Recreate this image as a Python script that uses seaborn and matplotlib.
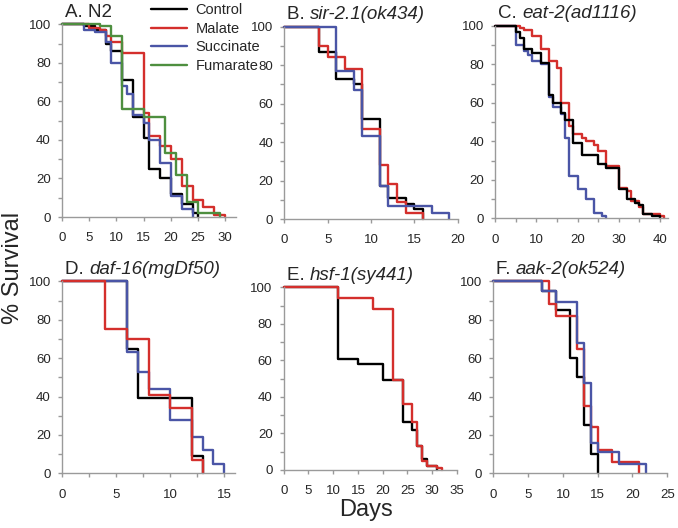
import matplotlib
matplotlib.use("Agg")
import matplotlib.pyplot as plt
import seaborn as sns
import pandas as pd
from matplotlib.ticker import MultipleLocator
from matplotlib.lines import Line2D

# ---------------- data (day, % survival), step curves ----------------
# A. N2
A_control_days = [0, 4, 6, 8, 9, 11, 13, 15, 16, 18, 20, 22, 24, 25]
A_control_surv = [100, 99, 97, 90, 86, 71, 52, 41, 25, 20, 12, 7, 2, 0]
A_malate_days = [0, 5, 7, 8, 9, 11, 15, 16, 18, 20, 22, 24, 26, 28, 30]
A_malate_surv = [100, 98, 97, 94, 91, 85, 54, 42, 37, 30, 16, 9, 5, 1, 0]
A_succinate_days = [0, 4, 6, 8, 9, 11, 12, 13, 15, 16, 18, 20, 22, 24]
A_succinate_surv = [100, 97, 96, 91, 80, 68, 64, 53, 49, 40, 28, 11, 4, 0]
A_fumarate_days = [0, 7, 9, 11, 15, 19, 21, 23, 25, 29]
A_fumarate_surv = [100, 99, 94, 56, 52, 33, 22, 8, 2, 0]

# B. sir-2.1(ok434)
B_control_days = [0, 4, 6, 8, 9, 11, 12, 14, 15, 16]
B_control_surv = [100, 87, 73, 70, 52, 17, 11, 8, 5, 0]
B_malate_days = [0, 4, 5, 7, 9, 11, 12, 13, 14, 16]
B_malate_surv = [100, 90, 84, 78, 47, 28, 18, 9, 3, 0]
B_succinate_days = [0, 6, 8, 9, 11, 12, 17, 19]
B_succinate_surv = [100, 77, 67, 43, 17, 7, 3, 0]

# C. eat-2(ad1116)
C_control_days = [0, 5, 6, 7, 9, 11, 13, 14, 16, 17, 19, 21, 25, 27, 30, 32, 34, 35, 36, 38, 40]
C_control_surv = [100, 97, 94, 88, 86, 81, 64, 60, 55, 51, 39, 33, 28, 26, 15, 10, 8, 7, 2, 1, 0]
C_malate_days = [0, 6, 7, 9, 11, 13, 15, 16, 18, 19, 21, 22, 24, 25, 27, 30, 32, 33, 35, 36, 40, 41]
C_malate_surv = [100, 99, 98, 95, 88, 82, 78, 60, 48, 44, 42, 40, 38, 35, 27, 16, 14, 9, 6, 2, 1, 0]
C_succinate_days = [0, 5, 7, 8, 9, 11, 13, 14, 16, 17, 18, 20, 22, 24, 26, 27]
C_succinate_surv = [100, 90, 87, 85, 82, 80, 63, 58, 54, 42, 22, 15, 10, 3, 1, 0]

# D. daf-16(mgDf50)
D_control_days = [0, 6, 7, 12, 13]
D_control_surv = [100, 65, 39, 9, 0]
D_malate_days = [0, 4, 6, 8, 10, 12, 13]
D_malate_surv = [100, 75, 70, 41, 34, 7, 0]
D_succinate_days = [0, 6, 7, 8, 10, 12, 13, 14, 15]
D_succinate_surv = [100, 63, 53, 44, 28, 19, 12, 5, 0]

# E. hsf-1(sy441)
E_control_days = [0, 11, 15, 20, 24, 26, 27, 28, 29, 31]
E_control_surv = [100, 61, 58, 49, 26, 22, 13, 6, 2, 0]
E_malate_days = [0, 11, 18, 22, 24, 26, 27, 28, 29, 31, 32]
E_malate_surv = [100, 94, 88, 49, 36, 26, 13, 5, 2, 1, 0]

# F. aak-2(ok524)
F_control_days = [0, 7, 9, 11, 12, 13, 14, 15]
F_control_surv = [100, 95, 85, 60, 50, 25, 10, 0]
F_malate_days = [0, 8, 9, 12, 13, 14, 15, 17, 21]
F_malate_surv = [100, 88, 82, 65, 35, 24, 12, 6, 0]
F_succinate_days = [0, 7, 9, 12, 13, 14, 15, 18, 22]
F_succinate_surv = [100, 95, 89, 68, 47, 16, 11, 5, 0]

groups = ["Control", "Malate", "Succinate", "Fumarate"]
palette = {"Control": "#000000", "Malate": "#d42f2c",
           "Succinate": "#4a55a6", "Fumarate": "#4e8f3f"}

panels = [
    ("A. N2", "", {"Control": (A_control_days, A_control_surv),
                   "Malate": (A_malate_days, A_malate_surv),
                   "Succinate": (A_succinate_days, A_succinate_surv),
                   "Fumarate": (A_fumarate_days, A_fumarate_surv)},
     ["Control", "Malate", "Succinate", "Fumarate"], 32, 5, None),
    ("B. ", "sir-2.1(ok434)", {"Control": (B_control_days, B_control_surv),
                               "Malate": (B_malate_days, B_malate_surv),
                               "Succinate": (B_succinate_days, B_succinate_surv)},
     ["Control", "Malate", "Succinate"], 20, 5, None),
    ("C. ", "eat-2(ad1116)", {"Control": (C_control_days, C_control_surv),
                              "Malate": (C_malate_days, C_malate_surv),
                              "Succinate": (C_succinate_days, C_succinate_surv)},
     ["Succinate", "Malate", "Control"], 42, 10, 5),
    ("D. ", "daf-16(mgDf50)", {"Control": (D_control_days, D_control_surv),
                               "Malate": (D_malate_days, D_malate_surv),
                               "Succinate": (D_succinate_days, D_succinate_surv)},
     ["Control", "Succinate", "Malate"], 16, 5, 2.5),
    ("E. ", "hsf-1(sy441)", {"Control": (E_control_days, E_control_surv),
                             "Malate": (E_malate_days, E_malate_surv)},
     ["Control", "Malate"], 35, 5, None),
    ("F. ", "aak-2(ok524)", {"Control": (F_control_days, F_control_surv),
                             "Malate": (F_malate_days, F_malate_surv),
                             "Succinate": (F_succinate_days, F_succinate_surv)},
     ["Control", "Malate", "Succinate"], 25, 5, None),
]

# axes rectangles in pixels: (left, top(100%), right, bottom(0%))
W, H = 678, 528
rects = [(62, 24.3, 236, 217), (284.3, 26.7, 457.5, 219), (495.3, 26, 668, 218.3),
         (62, 281.3, 235, 473.3), (283.7, 287.3, 457, 470), (493.3, 281.3, 667.3, 473.3)]

sns.set_style("ticks")
plt.rcParams["font.family"] = ["Liberation Sans", "DejaVu Sans"]

fig = plt.figure(figsize=(W / 100, H / 100), dpi=100)
gray = "#9a9a9a"

for (prefix, name, series, order, xmax, xmaj, xmin), (l, t, r, b) in zip(panels, rects):
    ax = fig.add_axes([l / W, 1 - b / H, (r - l) / W, (b - t) / H])
    rows = []
    for g in order:
        d, s = series[g]
        for di, si in zip(d, s):
            rows.append({"day": di, "surv": si, "group": g})
    df = pd.DataFrame(rows)
    sns.lineplot(data=df, x="day", y="surv", hue="group", hue_order=order,
                 palette=palette, drawstyle="steps-post", estimator=None,
                 sort=False, linewidth=1.7, legend=False, ax=ax, clip_on=False)
    ax.set_xlim(0, xmax)
    ax.set_ylim(0, 100)
    ax.xaxis.set_major_locator(MultipleLocator(xmaj))
    if xmin:
        ax.xaxis.set_minor_locator(MultipleLocator(xmin))
    ax.yaxis.set_major_locator(MultipleLocator(20))
    ax.yaxis.set_minor_locator(MultipleLocator(10))
    ax.set_xlabel("")
    ax.set_ylabel("")
    for sp in ["top", "right"]:
        ax.spines[sp].set_visible(False)
    for sp in ["left", "bottom"]:
        ax.spines[sp].set_color(gray)
        ax.spines[sp].set_linewidth(1.0)
    ax.tick_params(which="both", direction="out", length=3, width=1, color=gray,
                   labelsize=9.5)
    ax.tick_params(axis="x", which="both", pad=8)
    ax.tick_params(axis="y", which="both", pad=5)
    t1 = ax.annotate(prefix, xy=(0, 1), xycoords="axes fraction",
                     xytext=(3, 7.5), textcoords="offset pixels",
                     ha="left", va="baseline", fontsize=13.5)
    if name:
        ax.annotate(name, xy=(1, 0), xycoords=t1, ha="left", va="bottom",
                    fontsize=13.5, style="italic")
    if prefix.startswith("A"):
        handles = [Line2D([], [], color=palette[g], lw=1.7) for g in groups]
        ax.legend(handles, groups, loc="upper left",
                  bbox_to_anchor=(151 / W, 1 - 3 / H), bbox_transform=fig.transFigure,
                  frameon=False, fontsize=10.5, handlelength=2.5, handletextpad=0.55,
                  labelspacing=0.32, borderpad=0, borderaxespad=0)

fig.text(13 / W, 1 - 268 / H, "% Survival", rotation=90, ha="center", va="center",
         fontsize=17)
fig.text(366 / W, 1 - 516 / H, "Days", ha="center", va="baseline", fontsize=17)

fig.savefig("out.png", dpi=100)
